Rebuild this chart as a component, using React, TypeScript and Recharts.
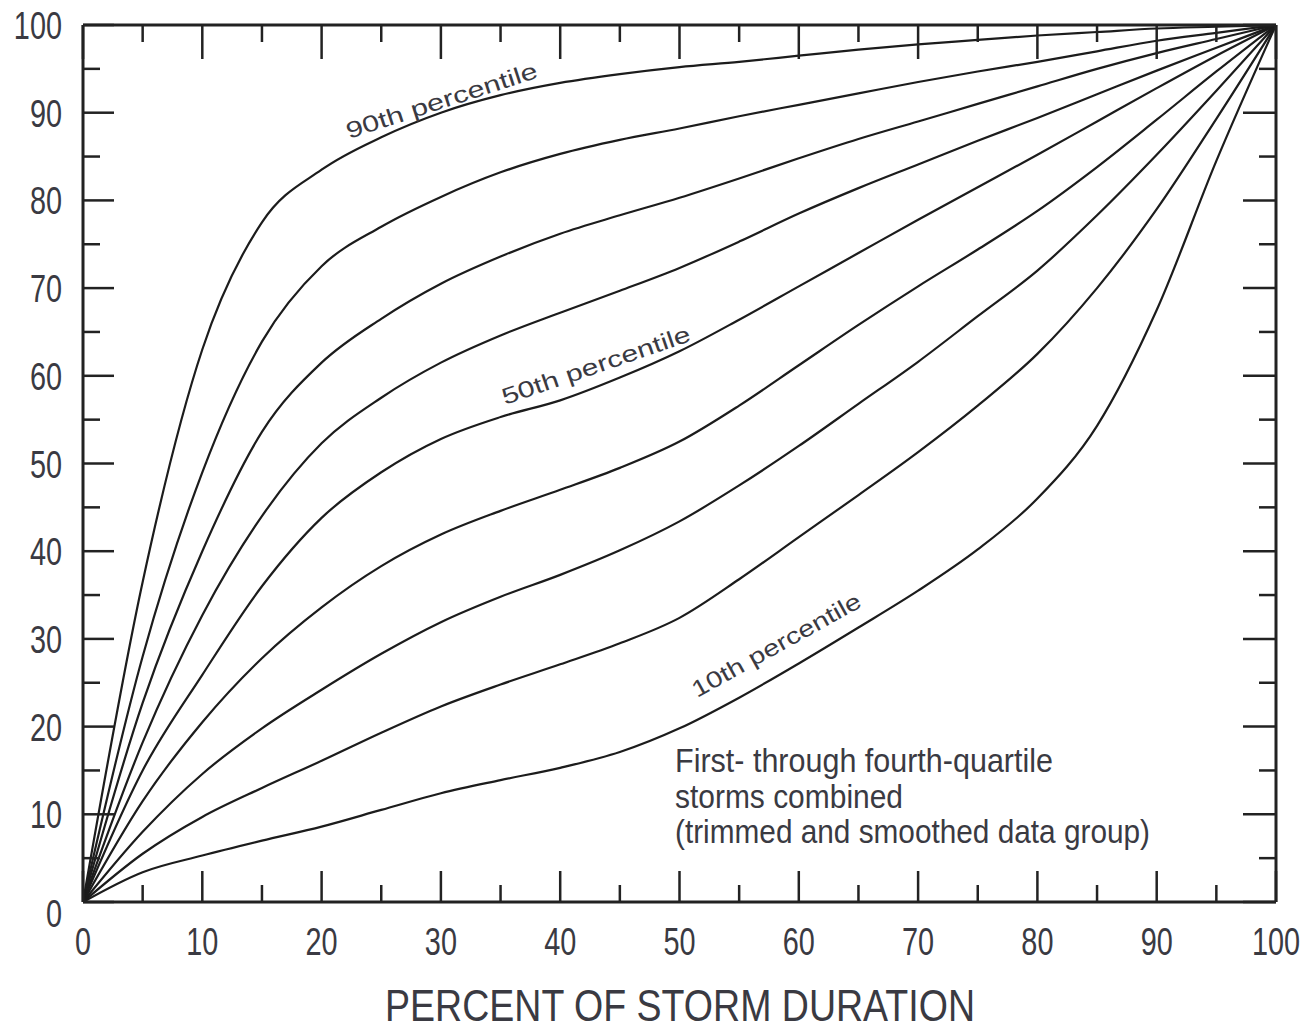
import { Line, LineChart, XAxis, YAxis } from "recharts";

const W = 1305;
const H = 1033;

// percent of storm duration
const duration = [0, 5, 10, 15, 20, 25, 30, 35, 40, 45, 50, 55, 60, 65, 70, 75, 80, 85, 90, 95, 100];

// cumulative percent of storm rainfall, per percentile curve
const p90 = [0, 36.5, 63, 77.5, 83.5, 87.2, 90, 92, 93.4, 94.4, 95.2, 95.8, 96.5, 97.2, 97.8, 98.3, 98.8, 99.2, 99.6, 99.8, 100];
const p80 = [0, 28, 49, 63.9, 72.5, 77, 80.4, 83.2, 85.3, 86.9, 88.2, 89.6, 90.9, 92.2, 93.5, 94.7, 95.8, 97, 98.2, 99.1, 100];
const p70 = [0, 22.7, 40, 53.6, 61.5, 66.5, 70.5, 73.6, 76.2, 78.3, 80.3, 82.5, 84.8, 87, 89, 91, 93, 95, 96.8, 98.4, 100];
const p60 = [0, 18.2, 32.7, 44, 52.3, 57.5, 61.5, 64.6, 67.2, 69.7, 72.3, 75.3, 78.5, 81.4, 84.1, 86.8, 89.4, 92.1, 94.8, 97.4, 100];
const p50 = [0, 15, 25.9, 36, 43.8, 49, 52.8, 55.3, 57.2, 59.8, 62.8, 66.4, 70.2, 74, 77.8, 81.5, 85.2, 89, 92.8, 96.5, 100];
const p40 = [0, 11.5, 20.5, 27.8, 33.6, 38.3, 41.9, 44.6, 47, 49.5, 52.5, 56.6, 61.2, 65.8, 70.2, 74.4, 78.8, 83.8, 89.2, 94.7, 100];
const p30 = [0, 8, 14.6, 19.8, 24.2, 28.3, 31.9, 34.8, 37.3, 40.1, 43.4, 47.5, 52, 56.8, 61.6, 66.8, 72, 78.3, 85.2, 92.5, 100];
const p20 = [0, 5.5, 9.7, 13, 16.1, 19.3, 22.3, 24.8, 27.1, 29.5, 32.4, 36.8, 41.6, 46.4, 51.3, 56.6, 62.5, 70, 79, 89.3, 100];
const p10 = [0, 3.4, 5.3, 7, 8.6, 10.5, 12.4, 13.9, 15.3, 17.1, 19.8, 23.3, 27.2, 31.3, 35.5, 40.2, 46, 54.3, 67.5, 84.5, 100];

const series: [string, number[]][] = [
  ["p90", p90], ["p80", p80], ["p70", p70], ["p60", p60], ["p50", p50],
  ["p40", p40], ["p30", p30], ["p20", p20], ["p10", p10],
];

const ticks = [0, 5, 10, 15, 20, 25, 30, 35, 40, 45, 50, 55, 60, 65, 70, 75, 80, 85, 90, 95, 100];

const data = duration.map((x, i) => {
  const row: Record<string, number> = { x };
  for (const [key, vals] of series) row[key] = vals[i];
  return row;
});

const INK = "#222";
const TEXT = "#3a3a42";
const FONT = "'Liberation Sans', Arial, sans-serif";
const MAJOR = 31;
const MINOR = 17;

function BottomTick(props: any) {
  const { x, y, payload } = props;
  const v = payload.value;
  const major = v % 10 === 0;
  return (
    <g>
      <line x1={x} x2={x} y1={y} y2={y - (major ? MAJOR : MINOR)} stroke={INK} strokeWidth={2.5} />
      {major && (
        <text
          transform={`translate(${x},${y + 53}) scale(0.76,1)`}
          textAnchor="middle"
          fontSize={38}
          fontFamily={FONT}
          fill={TEXT}
        >
          {v}
        </text>
      )}
    </g>
  );
}

function TopTick(props: any) {
  const { x, y, payload } = props;
  const major = payload.value % 10 === 0;
  return <line x1={x} x2={x} y1={y} y2={y + (major ? MAJOR + 3 : MINOR)} stroke={INK} strokeWidth={2.5} />;
}

function LeftTick(props: any) {
  const { x, y, payload } = props;
  const v = payload.value;
  const major = v % 10 === 0;
  return (
    <g>
      <line x1={x} x2={x + (major ? MAJOR : MINOR)} y1={y} y2={y} stroke={INK} strokeWidth={2.5} />
      {major && (
        <text
          transform={`translate(${x - 21},${y + 14 + (v === 0 ? 11 : 0)}) scale(0.76,1)`}
          textAnchor="end"
          fontSize={38}
          fontFamily={FONT}
          fill={TEXT}
        >
          {v}
        </text>
      )}
    </g>
  );
}

function RightTick(props: any) {
  const { x, y, payload } = props;
  const major = payload.value % 10 === 0;
  return <line x1={x} x2={x - (major ? MAJOR + 2 : MINOR)} y1={y} y2={y} stroke={INK} strokeWidth={2.5} />;
}

const axisLine = { stroke: INK, strokeWidth: 3 };

export default function App() {
  return (
    <div style={{ position: "absolute", left: 0, top: 0, width: W, height: H, background: "#fff" }}>
      <LineChart width={W} height={H} data={data} margin={{ top: 24, right: 28, bottom: 71, left: 23 }}>
        <XAxis
          xAxisId="bottom"
          dataKey="x"
          type="number"
          domain={[0, 100]}
          ticks={ticks}
          interval={0}
          height={60}
          tickSize={0}
          tickMargin={0}
          tickLine={false}
          axisLine={axisLine}
          tick={<BottomTick />}
        />
        <XAxis
          xAxisId="top"
          orientation="top"
          dataKey="x"
          type="number"
          domain={[0, 100]}
          ticks={ticks}
          interval={0}
          height={1}
          tickSize={0}
          tickMargin={0}
          tickLine={false}
          axisLine={axisLine}
          tick={<TopTick />}
        />
        <YAxis
          yAxisId="left"
          type="number"
          domain={[0, 100]}
          ticks={ticks}
          interval={0}
          width={60}
          tickSize={0}
          tickMargin={0}
          tickLine={false}
          axisLine={axisLine}
          tick={<LeftTick />}
        />
        <YAxis
          yAxisId="right"
          orientation="right"
          type="number"
          domain={[0, 100]}
          ticks={ticks}
          interval={0}
          width={1}
          tickSize={0}
          tickMargin={0}
          tickLine={false}
          axisLine={axisLine}
          tick={<RightTick />}
        />
        {series.map(([key]) => (
          <Line
            key={key}
            xAxisId="bottom"
            yAxisId="left"
            dataKey={key}
            type="monotone"
            stroke="#1c1c1c"
            strokeWidth={2.2}
            dot={false}
            isAnimationActive={false}
          />
        ))}
        {/* invisible twin so the top and right frame axes get drawn */}
        <Line
          xAxisId="top"
          yAxisId="right"
          dataKey="p50"
          stroke="none"
          dot={false}
          activeDot={false}
          legendType="none"
          isAnimationActive={false}
        />
      </LineChart>
      <svg
        width={W}
        height={H}
        style={{ position: "absolute", left: 0, top: 0, pointerEvents: "none" }}
        fontFamily={FONT}
      >
        <text x={349} y={139} transform="rotate(-18 349 139)" fontSize={23} fill={TEXT} textLength={200} lengthAdjust="spacingAndGlyphs">
          90th percentile
        </text>
        <text x={505} y={405} transform="rotate(-19 505 405)" fontSize={23} fill={TEXT} textLength={198} lengthAdjust="spacingAndGlyphs">
          50th percentile
        </text>
        <text x={697} y={698} transform="rotate(-29 697 698)" fontSize={23} fill={TEXT} textLength={190} lengthAdjust="spacingAndGlyphs">
          10th percentile
        </text>
        <text x={675} y={772} fontSize={33} fill={TEXT} textLength={378} lengthAdjust="spacingAndGlyphs">
          First- through fourth-quartile
        </text>
        <text x={675} y={808} fontSize={33} fill={TEXT} textLength={228} lengthAdjust="spacingAndGlyphs">
          storms combined
        </text>
        <text x={675} y={843} fontSize={33} fill={TEXT} textLength={475} lengthAdjust="spacingAndGlyphs">
          (trimmed and smoothed data group)
        </text>
        <text x={385} y={1021} fontSize={44} fill={TEXT} textLength={590} lengthAdjust="spacingAndGlyphs">
          PERCENT OF STORM DURATION
        </text>
      </svg>
    </div>
  );
}
